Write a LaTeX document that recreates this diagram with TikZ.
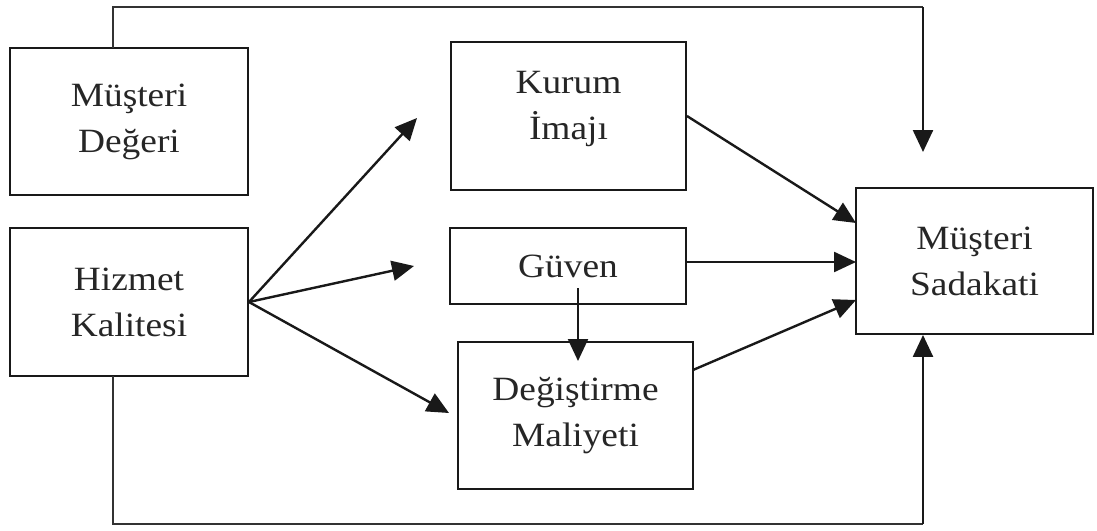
\documentclass[tikz,border=0pt]{standalone}
\usepackage{fontspec}
\setmainfont[FakeStretch=1.1]{Liberation Serif}
\usetikzlibrary{arrows.meta}
\begin{document}
\begin{tikzpicture}[x=1pt,y=-1pt,
  box/.style={draw=black!90,line width=1.9pt,inner sep=0pt,align=center,
    font=\fontsize{34}{46}\selectfont,text=black!85},
  arr/.style={line width=2.4pt,draw=black!90,-{Triangle[length=22pt,width=20pt]}},
  loop/.style={line width=1.6pt,draw=black!80}]
\useasboundingbox (0,0) rectangle (1097,530);
% boxes
\node[box,minimum width=238pt,minimum height=147pt] (deger) at (129,121.5) {Müşteri\\Değeri};
\node[box,minimum width=238pt,minimum height=148pt] (hizmet) at (129,302) {Hizmet\\Kalitesi};
\node[box,minimum width=235pt,minimum height=148pt,text depth=22pt] (kurum) at (568.5,116) {Kurum\\İmajı};
\node[box,minimum width=236pt,minimum height=76pt] (guven) at (568,266) {Güven};
\node[box,minimum width=235pt,minimum height=147pt] (degis) at (575.5,415.5) {Değiştirme\\Maliyeti};
\node[box,minimum width=237pt,minimum height=146pt] (sad) at (974.5,261) {Müşteri\\Sadakati};
% free ends
\coordinate (k0) at (417,118);
\coordinate (g0) at (414,266);
\coordinate (d0) at (449,413);
\coordinate (s1) at (856,223);
\coordinate (g1) at (686,262);
\coordinate (s2) at (856,262);
\coordinate (s3) at (856,300);
\coordinate (d1) at (693,370);
\coordinate (v0) at (578,288);
\coordinate (v1) at (578,361);
\coordinate (t0) at (113,48);
\coordinate (t1) at (113,7);
\coordinate (t2) at (923,7);
\coordinate (t3) at (923,152);
\coordinate (b0) at (113,376);
\coordinate (b1) at (113,524);
\coordinate (b2) at (923,524);
% connectors
\draw[arr] (hizmet.east) -- (k0);
\draw[arr] (hizmet.east) -- (g0);
\draw[arr] (hizmet.east) -- (d0);
\draw[arr] (kurum.east) -- (s1);
\draw[arr] (g1) -- (s2);
\draw[arr] (d1) -- (s3);
\draw[arr] (v0) -- (v1);
\draw[loop] (t0) -- (t1) -- (t2);
\draw[arr] (t2) -- (t3);
\draw[loop] (b0) -- (b1) -- (b2);
\draw[arr] (b2) -- (sad.south -| b2);
\end{tikzpicture}
\end{document}
